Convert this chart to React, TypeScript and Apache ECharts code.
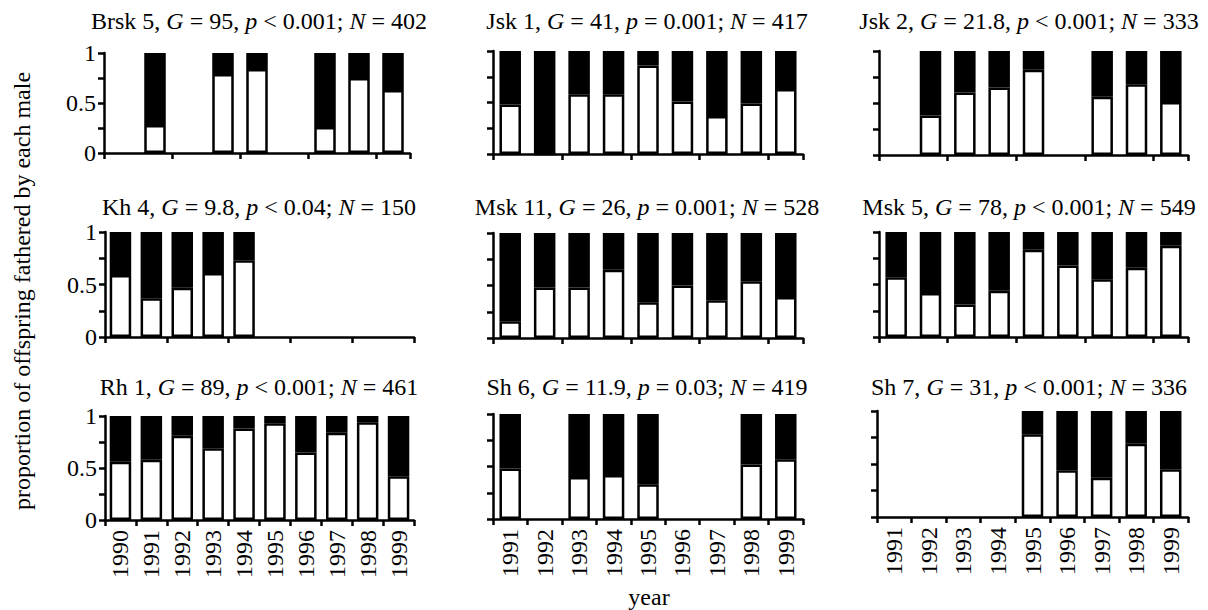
import React, { useEffect, useRef } from "react";
import * as echarts from "echarts";

// ---------- data ----------
const years10 = ["1990", "1991", "1992", "1993", "1994", "1995", "1996", "1997", "1998", "1999"];
const years9 = ["1991", "1992", "1993", "1994", "1995", "1996", "1997", "1998", "1999"];

// proportion of offspring (white part) per year; null = no data
const brsk5 = [null, 0.28, null, 0.79, 0.84, null, 0.26, 0.75, 0.63];
const jsk1 = [0.48, 0, 0.58, 0.58, 0.86, 0.51, 0.37, 0.49, 0.63];
const jsk2 = [null, 0.38, 0.6, 0.65, 0.82, null, 0.56, 0.68, 0.51];
const kh4 = [0.59, 0.37, 0.47, 0.61, 0.73, null, null, null, null, null];
const msk11 = [0.16, 0.48, 0.48, 0.65, 0.34, 0.5, 0.36, 0.54, 0.39];
const msk5 = [0.57, 0.42, 0.31, 0.44, 0.83, 0.68, 0.55, 0.66, 0.87];
const rh1 = [0.56, 0.58, 0.81, 0.69, 0.88, 0.93, 0.65, 0.84, 0.94, 0.42];
const sh6 = [0.48, null, 0.4, 0.42, 0.33, null, null, 0.52, 0.57];
const sh7 = [null, null, null, null, 0.78, 0.44, 0.37, 0.69, 0.45];

const panelNames = ["Brsk 5", "Jsk 1", "Jsk 2", "Kh 4", "Msk 11", "Msk 5", "Rh 1", "Sh 6", "Sh 7"];
const gStats = ["95", "41", "21.8", "9.8", "26", "78", "89", "11.9", "31"];
const pStats = ["< 0.001", "= 0.001", "< 0.001", "< 0.04", "= 0.001", "< 0.001", "< 0.001", "= 0.03", "< 0.001"];
const nStats = ["402", "417", "333", "150", "528", "549", "461", "419", "336"];
const panelValues = [brsk5, jsk1, jsk2, kh4, msk11, msk5, rh1, sh6, sh7];
const panelYears = [years9, years9, years9, years10, years9, years9, years10, years9, years9];

const yTickLabels = ["0", "0.5", "1"];
const yAxisTitle = "proportion of offspring fathered by each male";
const xAxisTitle = "year";

// ---------- layout ----------
const grids = [
  { left: 104, top: 53, width: 306, height: 100 },
  { left: 493, top: 51, width: 310, height: 103 },
  { left: 879, top: 51, width: 309, height: 104 },
  { left: 105, top: 232, width: 309, height: 105 },
  { left: 493, top: 233, width: 310, height: 105 },
  { left: 879, top: 232, width: 309, height: 105 },
  { left: 105, top: 416, width: 309, height: 104 },
  { left: 493, top: 414, width: 310, height: 105 },
  { left: 877, top: 411, width: 311, height: 106 },
];
const titleX = [259, 647, 1029];
const titleY = [21, 207, 387];

const FONT = '"Liberation Serif", "Times New Roman", Times, serif';
const FS = 24;
const LW = 2.5;

export default function App() {
  const ref = useRef<HTMLDivElement>(null);

  useEffect(() => {
    document.body.style.margin = "0";
    if (!ref.current) return;
    const chart = echarts.init(ref.current, undefined, { renderer: "svg" });

    const xAxis: any[] = [];
    const yAxis: any[] = [];
    const series: any[] = [];
    const graphic: any[] = [];

    panelValues.forEach((vals, i) => {
      const col = i % 3;
      const row = Math.floor(i / 3);
      xAxis.push({
        type: "category",
        gridIndex: i,
        data: panelYears[i],
        boundaryGap: true,
        axisLine: { show: true, lineStyle: { color: "#000", width: LW } },
        axisTick: { show: true, length: 6, alignWithLabel: false, lineStyle: { color: "#000", width: LW } },
        axisLabel:
          row === 2
            ? { show: true, rotate: 90, interval: 0, margin: 10, fontSize: FS, color: "#000", fontFamily: FONT }
            : { show: false },
        splitLine: { show: false },
      });
      yAxis.push({
        type: "value",
        gridIndex: i,
        min: 0,
        max: 1,
        interval: 0.25,
        axisLine: { show: true, lineStyle: { color: "#000", width: LW } },
        axisTick: { show: true, length: 6, lineStyle: { color: "#000", width: LW } },
        splitLine: { show: false },
        axisLabel:
          col === 0
            ? {
                show: true,
                margin: 8,
                fontSize: FS,
                color: "#000",
                fontFamily: FONT,
                formatter: (v: number) => {
                  const s = String(v);
                  return yTickLabels.includes(s) ? s : "";
                },
              }
            : { show: false },
      });
      series.push({
        type: "bar",
        xAxisIndex: i,
        yAxisIndex: i,
        stack: "s" + i,
        barWidth: 21.5,
        data: vals.map((v) => (v == null ? "-" : v)),
        itemStyle: { color: "#fff", borderColor: "#000", borderWidth: LW },
        silent: true,
      });
      series.push({
        type: "bar",
        xAxisIndex: i,
        yAxisIndex: i,
        stack: "s" + i,
        barWidth: 21.5,
        data: vals.map((v) => (v == null ? "-" : +(1 - v).toFixed(3))),
        itemStyle: { color: "#000", borderColor: "#000", borderWidth: LW },
        silent: true,
      });
      graphic.push({
        type: "text",
        x: titleX[col],
        y: titleY[row],
        style: {
          text: `${panelNames[i]}, {i|G} = ${gStats[i]}, {i|p} ${pStats[i]}; {i|N} = ${nStats[i]}`,
          fontSize: FS,
          fontFamily: FONT,
          fill: "#000",
          align: "center",
          verticalAlign: "middle",
          rich: { i: { fontStyle: "italic", fontSize: FS, fontFamily: FONT, fill: "#000" } },
        },
      });
    });

    graphic.push({
      type: "text",
      x: 22,
      y: 291,
      rotation: Math.PI / 2,
      style: {
        text: yAxisTitle,
        fontSize: FS,
        fontFamily: FONT,
        fill: "#000",
        align: "center",
        verticalAlign: "middle",
      },
    });
    graphic.push({
      type: "text",
      x: 649,
      y: 597,
      style: {
        text: xAxisTitle,
        fontSize: FS,
        fontFamily: FONT,
        fill: "#000",
        align: "center",
        verticalAlign: "middle",
      },
    });

    chart.setOption({
      animation: false,
      backgroundColor: "#fff",
      grid: grids.map((g) => ({ ...g, containLabel: false })),
      xAxis,
      yAxis,
      series,
      graphic,
    });

    return () => chart.dispose();
  }, []);

  return <div ref={ref} style={{ width: 1208, height: 610 }} />;
}
